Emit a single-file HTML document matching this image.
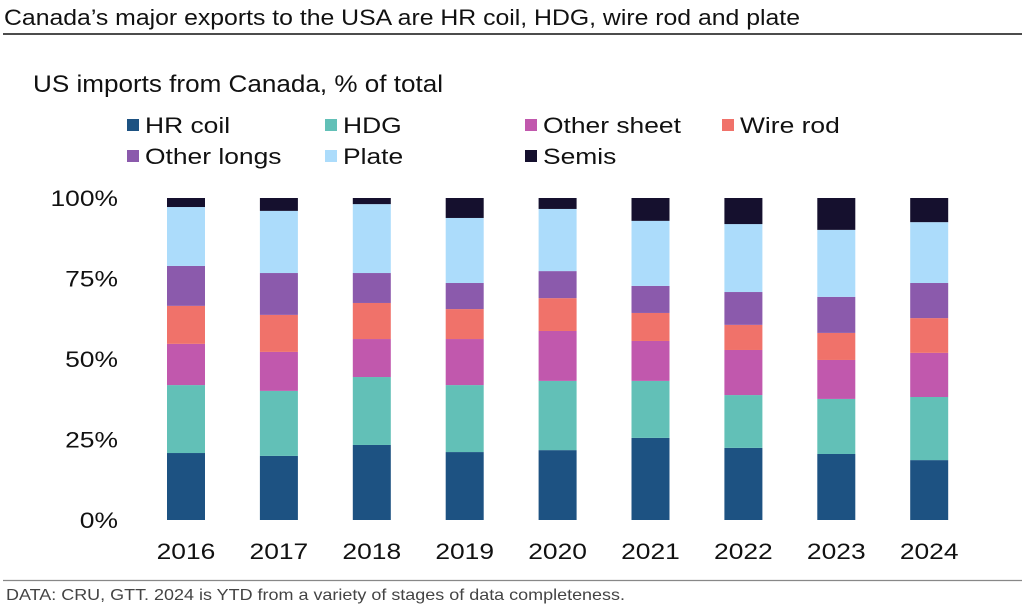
<!DOCTYPE html>
<html><head><meta charset="utf-8"><style>
body{margin:0;background:#fff;width:1024px;height:607px;overflow:hidden;font-family:"Liberation Sans",sans-serif}
svg text{font-family:"Liberation Sans",sans-serif}
</style></head><body>
<svg id="chart" width="1024" height="607">
<text x="4" y="25" font-size="22" fill="#111" data-w="796">Canada’s major exports to the USA are HR coil, HDG, wire rod and plate</text>
<line x1="3" y1="34" x2="1022" y2="34" stroke="#111" stroke-width="1.5"/>
<text x="33" y="92" font-size="24" fill="#111" data-w="410">US imports from Canada, % of total</text>
<g id="legend"></g>
<g id="yaxis"></g>
<g id="bars"></g>
<g id="xaxis"></g>
<line x1="3" y1="580.5" x2="1022" y2="580.5" stroke="#888" stroke-width="1.2"/>
<text x="6" y="600" font-size="16" fill="#444" data-w="619">DATA: CRU, GTT. 2024 is YTD from a variety of stages of data completeness.</text>
</svg>
<script>
const years=["2016","2017","2018","2019","2020","2021","2022","2023","2024"];
const seriesNames=["HR coil","HDG","Other sheet","Wire rod","Other longs","Plate","Semis"];
const hrCoil=[20.8,19.9,23.3,21.1,21.7,25.5,22.4,20.5,18.6];
const hdg=[21.1,20.2,21.1,20.8,21.5,17.7,16.4,17.1,19.6];
const otherSheet=[12.8,12.1,11.8,14.3,15.5,12.4,14.0,12.1,13.7];
const wireRod=[11.8,11.5,11.2,9.3,10.2,8.7,7.8,8.4,10.8];
const otherLongs=[12.4,13.0,9.3,8.1,8.4,8.4,10.2,11.2,10.9];
const plate=[18.3,19.3,21.4,20.2,19.3,20.2,21.1,20.8,18.9];
const semis=[2.8,4.0,1.9,6.2,3.4,7.1,8.1,9.9,7.5];
const yTicks=[0,25,50,75,100];
const colors=["#1d5282","#62c0b7","#c158ad","#f0726a","#8b5aac","#acdcfb","#15102e"];
const series=[hrCoil,hdg,otherSheet,wireRod,otherLongs,plate,semis];
const NS="http://www.w3.org/2000/svg";
const y0=520,y100=198;
function yScale(v){return y0-(y0-y100)*v/100;}
function xCenter(i){return 186+i*92.9;}
const bw=38;
const WIDE=1.2;
function mk(tag,attrs,parent){const e=document.createElementNS(NS,tag);for(const k in attrs)e.setAttribute(k,attrs[k]);parent.appendChild(e);return e;}
function widen(e,k){const w=e.getComputedTextLength();e.setAttribute('textLength',(w*k).toFixed(1));e.setAttribute('lengthAdjust','spacingAndGlyphs');}
const yg=document.getElementById('yaxis');
yTicks.forEach(t=>{const e=mk('text',{x:118,y:yScale(t)+8,'text-anchor':'end','font-size':22,fill:'#111'},yg);


e.textContent=t+'%';widen(e,WIDE);});
const bg=document.getElementById('bars');
years.forEach((yr,i)=>{let cum=0;series.forEach((s,j)=>{const v=s[i];const top=yScale(cum+v),bot=yScale(cum);
const r=mk('rect',{x:xCenter(i)-bw/2,y:top,width:bw,height:bot-top,fill:colors[j]},bg);


cum+=v;});});
const xg=document.getElementById('xaxis');
years.forEach((yr,i)=>{const e=mk('text',{x:xCenter(i),y:559,'text-anchor':'middle','font-size':22,fill:'#111'},xg);


e.textContent=yr;widen(e,WIDE);});
const lg=document.getElementById('legend');
const lx=[127,325,525,722],ly=[125,156];
seriesNames.forEach((n,j)=>{const cx=lx[j<4?j:j-4],cy=ly[j<4?0:1];
const g=mk('g',{},lg);


mk('rect',{x:cx,y:cy-6,width:12,height:12,fill:colors[j]},g);
const t=mk('text',{x:cx+18,y:cy+8,'font-size':22,fill:'#111'},g);t.textContent=n;widen(t,WIDE);});
document.querySelectorAll('text[data-w]').forEach(e=>{e.setAttribute('textLength',e.getAttribute('data-w'));e.setAttribute('lengthAdjust','spacingAndGlyphs');});
</script>
</body></html>
